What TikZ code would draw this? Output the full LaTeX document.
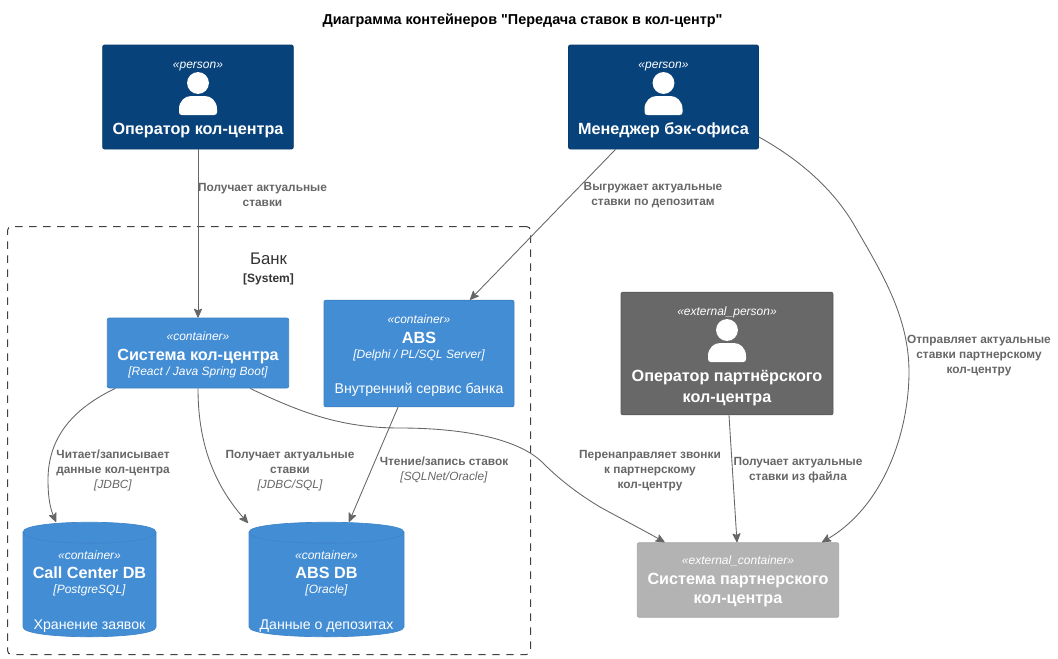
\documentclass[tikz,border=0pt]{standalone}
\usepackage{fontspec}
\setmainfont{Liberation Sans}
\newfontfamily\titlefont{Liberation Sans}
\usetikzlibrary{arrows.meta,calc}
\definecolor{persc}{HTML}{08427B}
\definecolor{contc}{HTML}{438DD5}
\definecolor{contb}{HTML}{3C7FC0}
\definecolor{extpc}{HTML}{686868}
\definecolor{extcc}{HTML}{B3B3B3}
\definecolor{extcb}{HTML}{A6A6A6}
\definecolor{relc}{HTML}{666666}
\newcommand{\stp}[2]{\rule{0pt}{#1pt}{\fontsize{9}{12}\selectfont\itshape #2}}
\newcommand{\nmt}[1]{{\fontsize{12.15}{12}\selectfont\bfseries #1}}
\newcommand{\dsc}[1]{{\fontsize{10.6}{12}\selectfont #1}}
\newcommand{\tch}[1]{{\fontsize{9}{12}\selectfont\itshape #1}}
\tikzset{
  x=0.75pt,y=-0.75pt,
  elem/.style={rectangle,rounded corners=1.5pt,align=center,text=white,inner sep=0pt,line width=0.6pt,font=\fontsize{9}{12.75}\selectfont},
  persbox/.style={elem,fill=persc,draw=persc!90!black},
  contbox/.style={elem,fill=contc,draw=contb},
  extpbox/.style={elem,fill=extpc,draw=extpc!85!black},
  extcbox/.style={elem,fill=extcc,draw=extcb},
  dbtext/.style={rectangle,align=center,text=white,inner sep=0pt,font=\fontsize{9}{12.75}\selectfont},
  rel/.style={draw=relc,line width=0.65pt,-{Stealth[length=7.5pt,width=6.6pt,inset=1.6pt,round]},fill=none},
  rellab/.style={align=center,text=relc,inner sep=0pt,font=\fontsize{8.9}{11.25}\selectfont\bfseries},
  cyl/.style={fill=contc,draw=contb!60!contc,line width=0.5pt},
  personicon/.pic={
    \fill[white] (0,0) circle [radius=8.2pt];
    \fill[white] (-16,32) .. controls (-18,32) and (-19,31) .. (-19,29) -- (-19,26)
      .. controls (-19,18) and (-13,13) .. (-7,13) -- (7,13)
      .. controls (13,13) and (19,18) .. (19,26) -- (19,29)
      .. controls (19,31) and (18,32) .. (16,32) -- cycle;
  }
}
\newcommand{\tn}[1]{{\mdseries\itshape #1}}
\begin{document}
\begin{tikzpicture}
\useasboundingbox (0,0) rectangle (1058,658);
\node[inner sep=0pt,font=\fontsize{10.8}{12}\selectfont\titlefont\bfseries] (title) at (522.5,21) {Диаграмма контейнеров "Передача ставок в кол-центр"};

% boundary
\node[rectangle,draw=black!75,dash pattern=on 5.6pt off 4.9pt,rounded corners=3pt,line width=0.75pt,minimum width=392.25pt,minimum height=321pt,inner sep=0pt] (bank) at (269,440.5) {};
\node[align=center,inner sep=0pt,text=black!80] (banklab) at (268.5,269) {{\fontsize{12.6}{12}\selectfont Банк}\\[2pt]{\fontsize{9}{12}\selectfont\bfseries [System]}};

% persons
\node[persbox,minimum width=143pt,minimum height=78pt] (op) at (198,97) {\stp{10}{«person»}\\[36.75pt]\nmt{Оператор кол-центра}};
\pic at (198,83) {personicon};
\node[persbox,minimum width=142.5pt,minimum height=78pt] (mgr) at (663.5,97) {\stp{10}{«person»}\\[36.75pt]\nmt{Менеджер бэк-офиса}};
\pic at (663.5,83) {personicon};
\node[extpbox,minimum width=159pt,minimum height=92pt] (extp) at (727,353.5) {\stp{10.8}{«external\_person»}\\[36.75pt]\nmt{Оператор партнёрского}\\[2.75pt]\nmt{кол-центра}};
\pic at (727,330) {personicon};

% containers
\node[contbox,minimum width=136pt,minimum height=52.5pt] (sys) at (198,353) {\stp{10}{«container»}\\[2.25pt]\nmt{Система кол-центра}\\[-1.5pt]\tch{[React / Java Spring Boot]}};
\node[contbox,minimum width=142.5pt,minimum height=80pt] (abs) at (419,353.5) {\stp{9.3}{«container»}\\[2.25pt]\nmt{ABS}\\[-1.5pt]\tch{[Delphi / PL/SQL Server]}\\[13.75pt]\dsc{Внутренний сервис банка}};
\node[extcbox,minimum width=151pt,minimum height=56pt] (extc) at (738,580) {\stp{8.5}{«external\_container»}\\[2.25pt]\nmt{Система партнерского}\\[2pt]\nmt{кол-центра}};

% databases
\path[cyl] (23,532) .. controls (23,519) and (156,519) .. (156,532) -- (156,627) .. controls (156,640) and (23,640) .. (23,627) -- cycle;
\draw[contb!60!contc,line width=0.5pt] (23,532) .. controls (23,547) and (156,547) .. (156,532);
\node[dbtext,minimum width=100pt,minimum height=69pt] (ccdb) at (89.5,590.5) {\stp{7.8}{«container»}\\[1.9pt]\nmt{Call Center DB}\\[-1.5pt]\tch{[PostgreSQL]}\\[13.75pt]\dsc{Хранение заявок}};
\path[cyl] (249,532) .. controls (249,519) and (404,519) .. (404,532) -- (404,627) .. controls (404,640) and (249,640) .. (249,627) -- cycle;
\draw[contb!60!contc,line width=0.5pt] (249,532) .. controls (249,547) and (404,547) .. (404,532);
\node[dbtext,minimum width=116pt,minimum height=69pt] (absdb) at (326.5,590.5) {\stp{7.8}{«container»}\\[1.9pt]\nmt{ABS DB}\\[-1.5pt]\tch{[Oracle]}\\[13.75pt]\dsc{Данные о депозитах}};

% connectors
\coordinate (ccdbin) at (56,522);
\coordinate (absdbin) at (248,523);
\coordinate (absdbin2) at (349,522);
\draw[rel] (op.south) -- (sys.north);
\draw[rel] ([xshift=-36pt]mgr.south) -- ([xshift=38.25pt]abs.north);
\draw[rel] (mgr.east |- 759,137) .. controls (795,157) and (830,185) .. (853,223) .. controls (880,270) and (909,315) .. (909,372) .. controls (909,430) and (885,505) .. ([xshift=63pt]extc.north);
\draw[rel] ([xshift=1.5pt]extp.south) -- ([xshift=-0.75pt]extc.north);
\draw[rel] ([xshift=-62pt]sys.south) .. controls (70,410) and (48,440) .. (48,480) .. controls (48,500) and (51,510) .. (ccdbin);
\draw[rel] (sys.south) .. controls (198,440) and (212,482) .. (absdbin);
\draw[rel] ([xshift=39pt]sys.south) .. controls (300,412) and (340,428) .. (400,428) .. controls (450,428) and (515,435) .. (543,463) .. controls (557,477) and (575,492) .. (600,507) .. controls (620,518) and (645,531) .. ([xshift=-55pt]extc.north);
\draw[rel] ([xshift=-15.75pt]abs.south) -- (absdbin2);

% connector labels
\node[rellab] (l1) at (262.5,195) {Получает актуальные\\ставки};
\node[rellab] (l2) at (653,195.5) {Выгружает актуальные\\ставки по депозитам};
\node[rellab] (l3) at (979,355.5) {Отправляет актуальные\\ставки партнерскому\\кол-центру};
\node[rellab] (l4) at (113,470.5) {Читает/записывает\\данные кол-центра\\\tn{[JDBC]}};
\node[rellab] (l5) at (290,470.5) {Получает актуальные\\ставки\\\tn{[JDBC/SQL]}};
\node[rellab] (l6) at (444,470) {Чтение/запись ставок\\\tn{[SQLNet/Oracle]}};
\node[rellab] (l7) at (650,470.5) {Перенаправляет звонки\\к партнерскому\\кол-центру};
\node[rellab] (l8) at (798,470) {Получает актуальные\\ставки из файла};
\end{tikzpicture}
\end{document}
